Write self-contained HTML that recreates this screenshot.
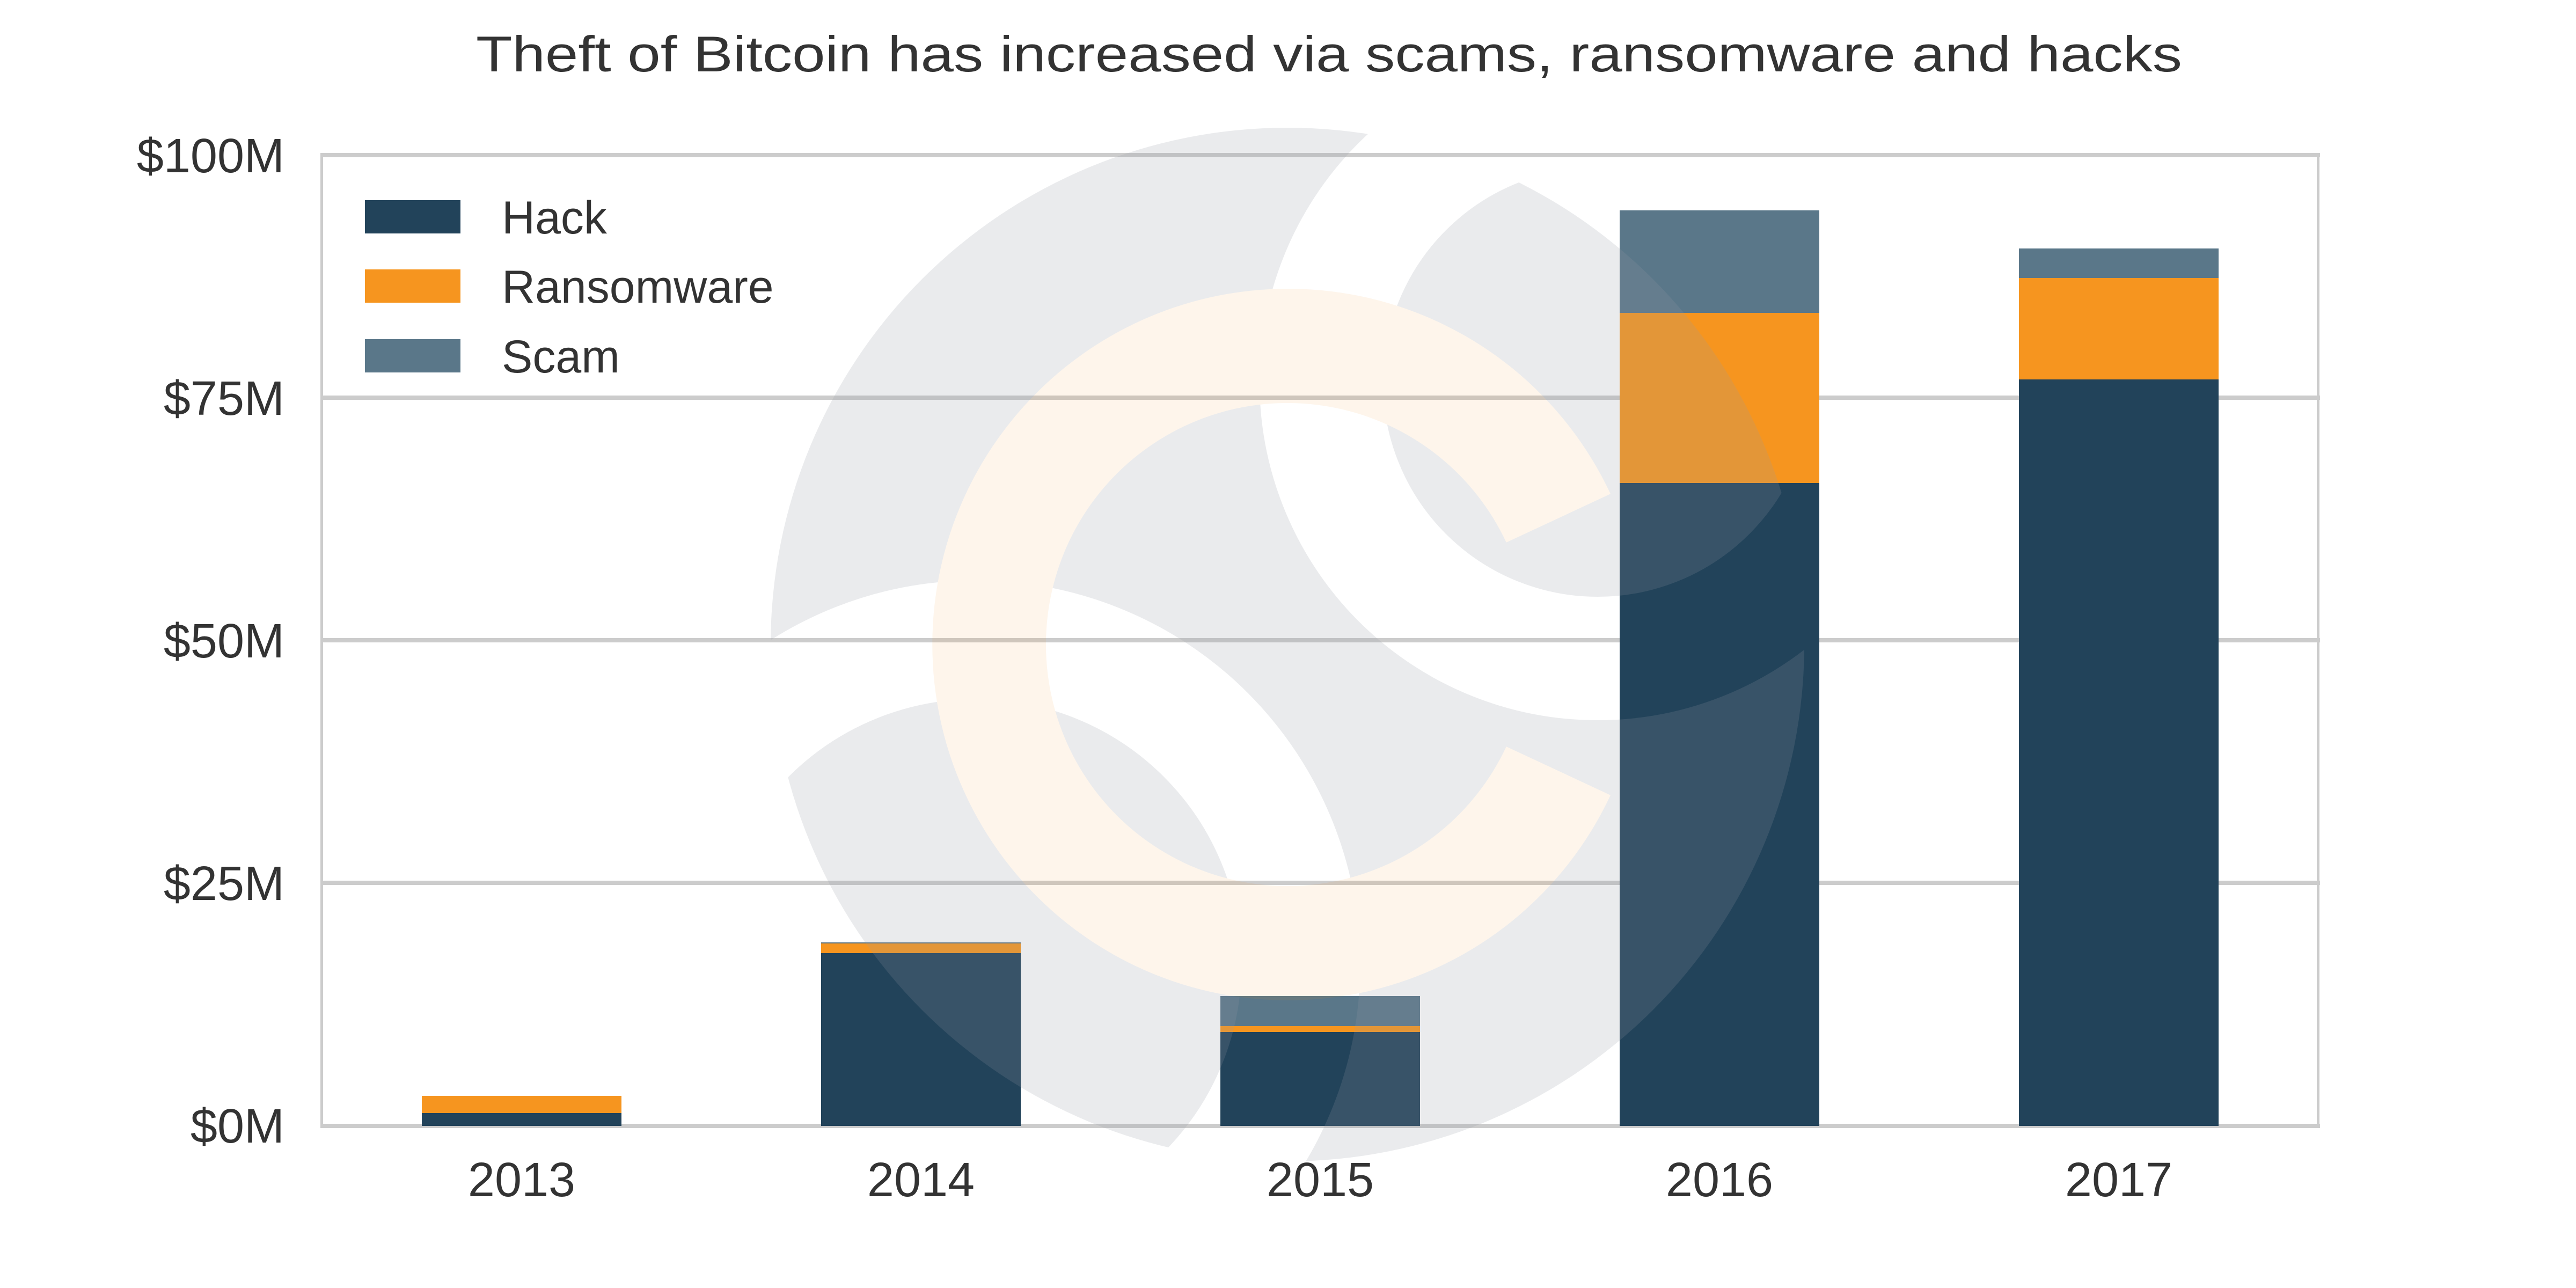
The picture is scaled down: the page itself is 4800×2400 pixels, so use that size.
<!DOCTYPE html>
<html><head><meta charset="utf-8"><style>
html,body{margin:0;padding:0;background:#fff;}
svg{display:block;}
text{font-family:"Liberation Sans",sans-serif;fill:#333;}
</style></head><body>
<svg width="4800" height="2400" viewBox="0 0 4800 2400" xmlns="http://www.w3.org/2000/svg">
<defs>
<path id="peach" d="M 3000.9 920.3 A 663 663 0 1 0 3000.9 1481.7 L 2806.8 1391.2 A 450 450 0 1 1 2806.8 1010.8 Z"/>
</defs>
<rect width="4800" height="2400" fill="#fff"/>
<text x="887" y="133" font-size="94" textLength="3179" lengthAdjust="spacingAndGlyphs" fill="#222">Theft of Bitcoin has increased via scams, ransomware and hacks</text>
<g fill="#cccccc">
<rect x="599" y="285" width="3724" height="8"/>
<rect x="599" y="737" width="3724" height="8"/>
<rect x="599" y="1189" width="3724" height="8"/>
<rect x="599" y="1641" width="3724" height="8"/>
<rect x="599" y="2094" width="3724" height="8"/>
<rect x="597" y="285" width="5" height="1817"/>
<rect x="4317" y="285" width="5" height="1817"/>
</g>
<g font-size="90" text-anchor="end" fill="#444">
<text x="530" y="321">$100M</text>
<text x="530" y="773">$75M</text>
<text x="530" y="1225">$50M</text>
<text x="530" y="1677">$25M</text>
<text x="530" y="2129">$0M</text>
</g>
<g font-size="90" text-anchor="middle" fill="#444">
<text x="972" y="2229">2013</text>
<text x="1716" y="2229">2014</text>
<text x="2460" y="2229">2015</text>
<text x="3204" y="2229">2016</text>
<text x="3948" y="2229">2017</text>
</g>
<g>
<rect x="786" y="2042" width="372" height="32" fill="#f6951f"/>
<rect x="786" y="2074" width="372" height="24" fill="#22435a"/>
<rect x="1530" y="1756" width="372" height="3" fill="#5a7789"/>
<rect x="1530" y="1758" width="372" height="18" fill="#f6951f"/>
<rect x="1530" y="1776" width="372" height="322" fill="#22435a"/>
<rect x="2274" y="1856" width="372" height="56" fill="#5a7789"/>
<rect x="2274" y="1912" width="372" height="11" fill="#f6951f"/>
<rect x="2274" y="1923" width="372" height="175" fill="#22435a"/>
<rect x="3018" y="392" width="372" height="191" fill="#5a7789"/>
<rect x="3018" y="583" width="372" height="317" fill="#f6951f"/>
<rect x="3018" y="900" width="372" height="1198" fill="#22435a"/>
<rect x="3762" y="463" width="372" height="55" fill="#5a7789"/>
<rect x="3762" y="518" width="372" height="189" fill="#f6951f"/>
<rect x="3762" y="707" width="372" height="1391" fill="#22435a"/>
</g>
<mask id="m">
<rect width="4800" height="2400" fill="#000"/>
<circle cx="2399" cy="1201" r="963" fill="#fff"/>
<circle cx="2977" cy="712" r="515" fill="none" stroke="#000" stroke-width="230"/>
<circle cx="1819" cy="1797" r="605" fill="none" stroke="#000" stroke-width="221"/>
<use href="#peach" fill="#000"/>
</mask>
<g opacity="0.19">
<rect width="4800" height="2400" fill="rgb(150,155,165)" mask="url(#m)"/>
</g>
<g opacity="0.09">
<use href="#peach" fill="#f6951f"/>
</g>
<rect x="680" y="373" width="178" height="62" fill="#22435a"/>
<rect x="680" y="502" width="178" height="62" fill="#f6951f"/>
<rect x="680" y="632" width="178" height="62" fill="#5a7789"/>
<g font-size="86" fill="#333">
<text x="935" y="435">Hack</text>
<text x="935" y="564">Ransomware</text>
<text x="935" y="694">Scam</text>
</g>
</svg>
</body></html>
